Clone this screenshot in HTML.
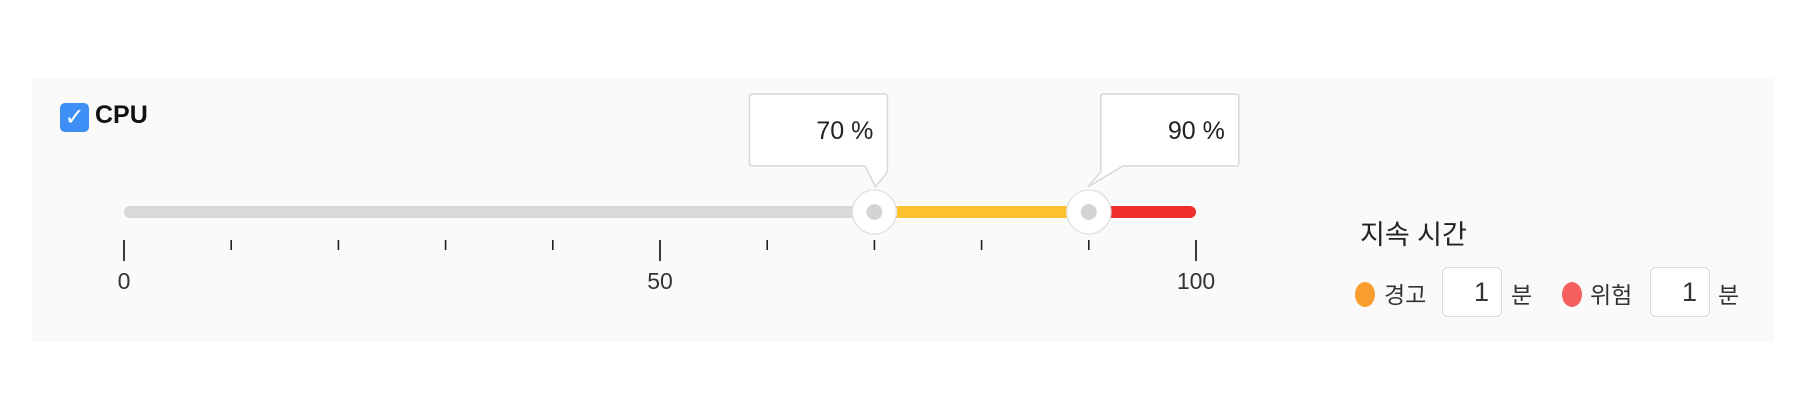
<!DOCTYPE html>
<html><head><meta charset="utf-8">
<style>
body{margin:0;width:1800px;height:400px;background:#fff;font-family:"Liberation Sans","Noto Sans CJK KR",sans-serif;overflow:hidden;position:relative}
#panel{position:absolute;left:32px;top:78px;width:1742px;height:264px;background:#fafafa}
.abs{position:absolute}
.inp{position:absolute;width:60px;height:50px;border:1.5px solid #d6dee0;border-radius:6px;background:#fff;box-sizing:border-box;font-size:27px;color:#333;text-align:right;padding-right:12px;line-height:48px}
.lbl{position:absolute;font-size:23px;color:#333}
</style></head><body>
<div id="panel"></div>
<div class="abs" style="left:60px;top:103px;width:29px;height:29px;background:#3d8ff5;border-radius:5px;color:#fff;font-size:24px;line-height:29px;text-align:center;font-family:'DejaVu Sans',sans-serif">✓</div>
<div class="abs" style="left:95px;top:101px;font-size:25px;font-weight:bold;color:#111">CPU</div>
<svg id="chart" class="abs" style="left:0;top:0" width="1800" height="400"></svg>
<div class="abs" style="left:1360px;top:213px;font-size:27px;color:#222">지속 시간</div>
<div class="abs" style="left:1355px;top:282px;width:20px;height:25px;border-radius:50%;background:#f99d2e"></div>
<div class="lbl" style="left:1384px;top:276px">경고</div>
<div class="inp" style="left:1442px;top:267px">1</div>
<div class="lbl" style="left:1511px;top:276px">분</div>
<div class="abs" style="left:1562px;top:282px;width:20px;height:25px;border-radius:50%;background:#f56060"></div>
<div class="lbl" style="left:1590px;top:276px">위험</div>
<div class="inp" style="left:1650px;top:267px">1</div>
<div class="lbl" style="left:1718px;top:276px">분</div>
<script>
const thresholds=[70,90];
const thresholdLabels=["70 %","90 %"];
const tickValues=[0,10,20,30,40,50,60,70,80,90,100];
const majorTicks=[0,50,100];
const NS="http://www.w3.org/2000/svg";
const svg=document.getElementById('chart');
const x0=124,x1=1196,ty=212;
const X=v=>x0+(x1-x0)*v/100;
function mk(t,a){const e=document.createElementNS(NS,t);for(const k in a)e.setAttribute(k,a[k]);svg.appendChild(e);return e;}
let e;
e=mk('line',{x1:X(0)+6,y1:ty,x2:X(thresholds[0]),y2:ty,stroke:'#d9d9d9','stroke-width':12,'stroke-linecap':'round'});


e=mk('line',{x1:X(thresholds[0]),y1:ty,x2:X(thresholds[1]),y2:ty,stroke:'#fcc12f','stroke-width':12});


e=mk('line',{x1:X(thresholds[1]),y1:ty,x2:X(100)-6,y2:ty,stroke:'#ee2f2b','stroke-width':12,'stroke-linecap':'round'});


tickValues.forEach(v=>{
  const maj=majorTicks.includes(v);
  e=mk('line',{x1:X(v),y1:240,x2:X(v),y2:maj?261:250,stroke:'#222','stroke-width':maj?1.8:1.6});
  
  
  if(maj){
    e=mk('text',{x:X(v),y:289,'text-anchor':'middle','font-size':23,fill:'#333','font-family':'Liberation Sans, sans-serif'});
    e.textContent=v;
    
    
  }
});
thresholds.forEach((v,i)=>{
  const cx=X(v);
  const bw=138, by=94, bh=72;
  const bx=i==0?cx+13-bw:cx+12;
  const b=by+bh, r=bx+bw, tipY=ty-25;
  let d;
  if(i==0){
    d=`M${bx+3},${by} H${r-3} Q${r},${by} ${r},${by+3} V${b+6} L${cx+1},${tipY} L${r-22},${b} H${bx+3} Q${bx},${b} ${bx},${b-3} V${by+3} Q${bx},${by} ${bx+3},${by} Z`;
  }else{
    d=`M${bx+3},${by} H${r-3} Q${r},${by} ${r},${by+3} V${b-3} Q${r},${b} ${r-3},${b} H${bx+22} L${cx-1},${tipY} L${bx},${b+6} V${by+3} Q${bx},${by} ${bx+3},${by} Z`;
  }
  e=mk('path',{d:d,fill:'#fff',stroke:'#d8d8d8','stroke-width':1.5});
  
  
  e=mk('text',{x:bx+bw-14,y:by+45,'text-anchor':'end','font-size':25,fill:'#222','font-family':'Liberation Sans, sans-serif'});
  e.textContent=thresholdLabels[i];
  
  
  e=mk('circle',{cx:cx,cy:ty,r:22,fill:'#fff',stroke:'#e4e4e4','stroke-width':1.5});
  
  
  e=mk('circle',{cx:cx,cy:ty,r:8,fill:'#d4d4d4'});
  
  
});
</script>
</body></html>
